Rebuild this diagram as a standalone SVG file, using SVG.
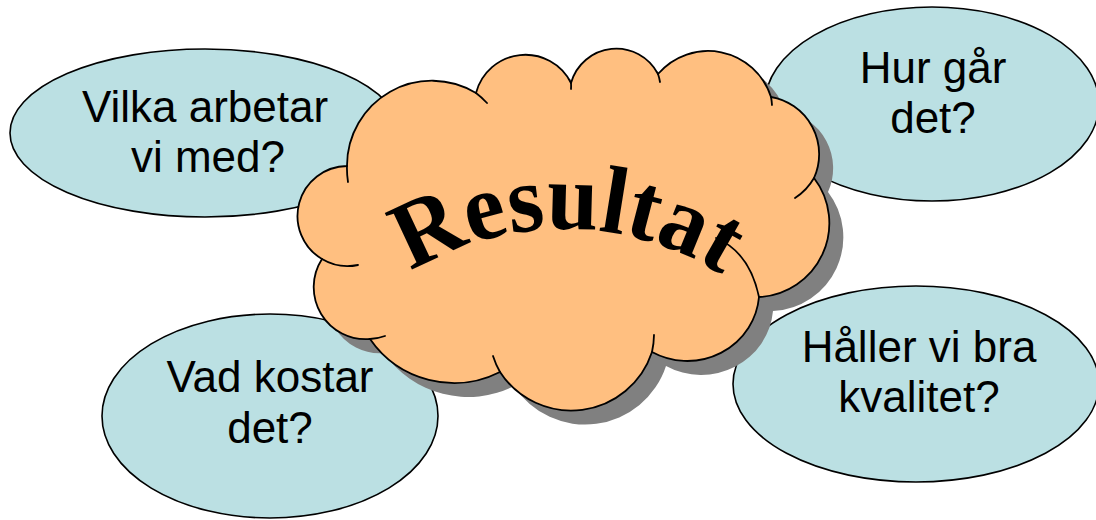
<svg xmlns="http://www.w3.org/2000/svg" width="1096" height="520" viewBox="0 0 1096 520">
<defs>
<style>
.bubble{fill:#BBE0E3;stroke:#000;stroke-width:1.6}
.lbl{font-family:"Liberation Sans",Arial,sans-serif;font-size:44px;fill:#000;text-anchor:middle}
.cloud{fill:#FFBF80;stroke:#000;stroke-width:1.8;stroke-linejoin:round}
.shadow{fill:#808080}
.inner{fill:none;stroke:#000;stroke-width:1.8;stroke-linecap:round}
.title{font-family:"Liberation Serif","DejaVu Serif",serif;font-weight:bold;font-size:96px;fill:#000}
</style>
<path id="cloudShape" d="M 347 166 A 85 85 0 0 1 476 93 A 51 51 0 0 1 571 83 A 47 47 0 0 1 658 74 A 66 66 0 0 1 771 97 A 58 58 0 0 1 814 178 A 74 74 0 0 1 759 297 A 72 70 0 0 1 652 352 A 85 85 0 0 1 500 372 A 102 102 0 0 1 370 339 A 52 52 0 0 1 322 259 A 50 50 0 0 1 347 166 Z"/>
<path id="arc" d="M 373 300 A 292 292 0 0 1 755 300"/>
</defs>
<rect width="1096" height="520" fill="#fff"/>
<g id="node-vilka">
<ellipse class="bubble" cx="205" cy="133" rx="195" ry="84"/>
<text class="lbl" x="205" y="122">Vilka arbetar</text>
<text class="lbl" x="208" y="172">vi med?</text>
</g>
<g id="node-hur">
<ellipse class="bubble" cx="932" cy="104" rx="167" ry="97"/>
<text class="lbl" x="933" y="83">Hur går</text>
<text class="lbl" x="933" y="133">det?</text>
</g>
<g id="node-haller">
<ellipse class="bubble" cx="916" cy="384" rx="183" ry="98"/>
<text class="lbl" x="919" y="362">Håller vi bra</text>
<text class="lbl" x="919" y="412">kvalitet?</text>
</g>
<g id="node-vad">
<ellipse class="bubble" cx="270" cy="416" rx="168" ry="102"/>
<text class="lbl" x="270" y="392">Vad kostar</text>
<text class="lbl" x="270" y="443">det?</text>
</g>
<g id="node-resultat">
<use href="#cloudShape" class="shadow" transform="translate(14,14)"/>
<use href="#cloudShape" class="cloud"/>
<path class="inner" d="M 347 166 A 85 85 0 0 0 348 182 M 476 93 A 85 85 0 0 1 487 103 M 571 83 A 51 51 0 0 1 571 89 M 658 74 A 47 47 0 0 1 660 82 M 771 97 A 66 66 0 0 1 772 105 M 814 178 A 58 58 0 0 1 795 198 M 716 238 C 735 246 752 264 759 297 M 652 352 A 85 85 0 0 0 654 335 M 500 372 A 85 85 0 0 1 493 356 M 370 339 A 52 52 0 0 0 385 336 M 322 259 A 50 50 0 0 0 358 265"/>
<text class="title"><textPath href="#arc" startOffset="47" textLength="328" lengthAdjust="spacingAndGlyphs">Resultat</textPath></text>
</g>
</svg>
